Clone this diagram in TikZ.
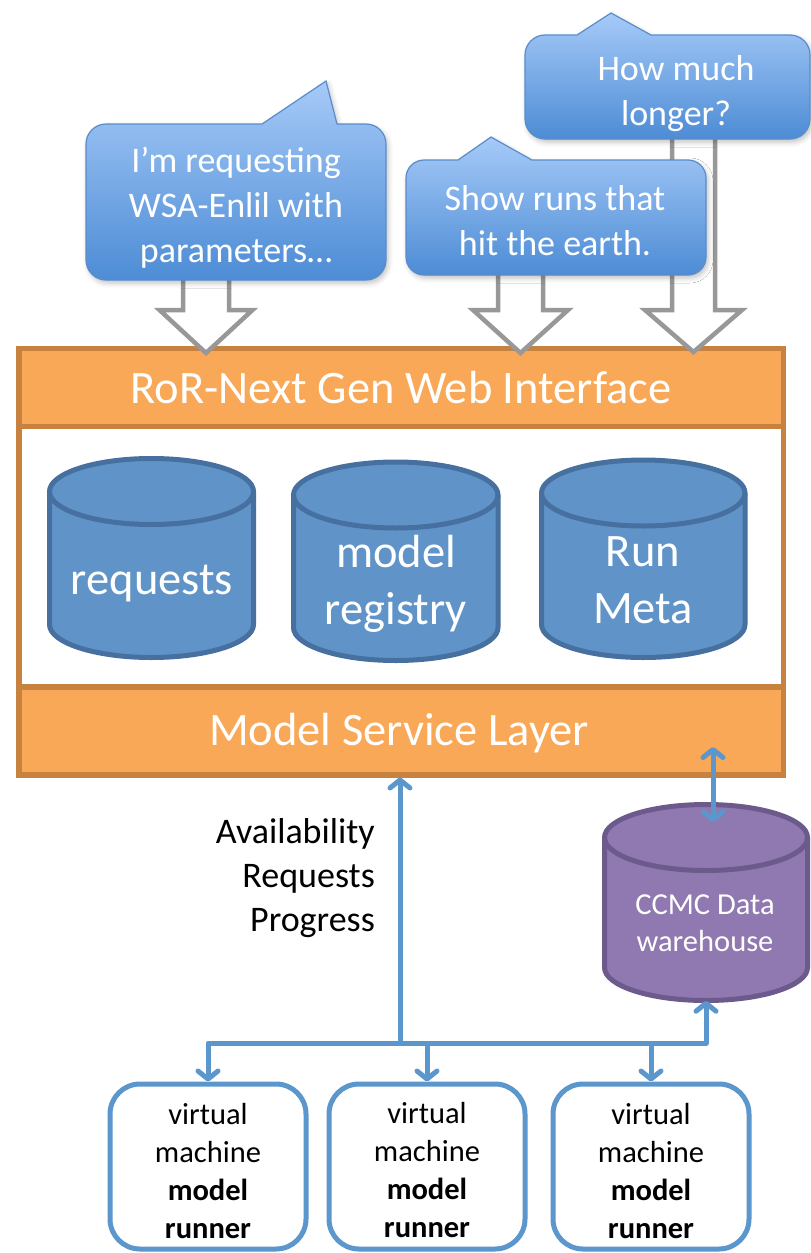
\documentclass[tikz,border=0pt]{standalone}
\usepackage{fontspec}
\setmainfont{Carlito}
\usetikzlibrary{arrows.meta,calc,shadows.blur}

\definecolor{bandfill}{HTML}{F8A856}
\definecolor{bandline}{HTML}{C8823F}
\definecolor{dbfill}{HTML}{6094C8}
\definecolor{dbline}{HTML}{46709F}
\definecolor{whfill}{HTML}{8F79B0}
\definecolor{whline}{HTML}{6C5A8D}
\definecolor{link}{HTML}{5B96CC}
\definecolor{bubtop}{HTML}{A6CAF8}
\definecolor{bubbot}{HTML}{4D8CD5}
\definecolor{bubline}{HTML}{5A8CCB}
\definecolor{hollow}{HTML}{989898}

\newcommand\fs[2]{\fontsize{#1}{#2}\selectfont}

% speech bubble: L R T B radius tailLeft tipX tipY tailRight
\newcommand\bubble[9]{%
  \shade[bubblestyle]
    (#1,{-(#3+#5)}) -- (#1,{-(#4-#5)})
    arc[start angle=180,end angle=270,radius=#5pt] -- ({#2-#5},-#4)
    arc[start angle=270,end angle=360,radius=#5pt] -- (#2,{-(#3+#5)})
    arc[start angle=0,end angle=90,radius=#5pt] -- (#9,-#3) -- (#7,-#8) -- (#6,-#3)
    -- ({#1+#5},-#3) arc[start angle=90,end angle=180,radius=#5pt] -- cycle;}

% database drum: L R T B ry fill line
\newcommand\drum[7]{%
  \pgfmathsetmacro\drx{(#2-#1)/2}%
  \pgfmathsetmacro\dtop{-(#3+#5)}%
  \pgfmathsetmacro\dbot{-(#4-#5)}%
  \path[draw=#7,fill=#6,line width=5pt,line join=round]
    (#1,\dtop) -- (#1,\dbot)
    arc[start angle=180,end angle=360,x radius=\drx pt,y radius=#5pt]
    -- (#2,\dtop)
    arc[start angle=0,end angle=180,x radius=\drx pt,y radius=#5pt] -- cycle;
  \draw[draw=#7,line width=5pt]
    (#1,\dtop) arc[start angle=180,end angle=360,x radius=\drx pt,y radius=#5pt];}

% hollow block arrow: centre x, shaft half width, head half width, top, head base, tip
\newcommand\blockarrow[6]{%
  \draw[hollowarrow] ({#1-#2},-#4) -- ({#1-#2},-#5) -- ({#1-#3},-#5) -- (#1,-#6)
    -- ({#1+#3},-#5) -- ({#1+#2},-#5) -- ({#1+#2},-#4) -- cycle;}

\begin{document}
\begin{tikzpicture}[x=1pt,y=1pt,
  bubblestyle/.style={top color=bubtop,bottom color=bubbot,draw=bubline,line width=1.2pt,
    blur shadow={shadow xshift=2pt,shadow yshift=-3pt,shadow opacity=25,shadow blur radius=5pt}},
  bubtext/.style={text=white,align=center,font=\fs{36}{45},inner sep=0pt},
  hollowarrow/.style={draw=hollow,fill=white,line width=4.5pt,line join=miter},
  frame/.style={draw=bandline,fill=white,line width=5.5pt,inner sep=0pt,anchor=north west},
  band/.style={draw=bandline,fill=bandfill,line width=5.5pt,inner sep=0pt,anchor=north west,
    text=white,font=\fs{46.5}{57}},
  dbtext/.style={text=white,align=center,font=\fs{46.5}{57},inner sep=0pt},
  whtext/.style={text=white,align=center,font=\fs{30.5}{37},inner sep=0pt},
  vmbox/.style={draw=link,fill=white,line width=5pt,rounded corners=30pt,
    minimum width=196pt,minimum height=165pt,inner sep=0pt},
  vmtext/.style={align=center,font=\fs{30.5}{37.7},inner sep=0pt},
  flowlabel/.style={text=black,align=right,font=\fs{36}{44},inner sep=0pt,anchor=east},
  linkline/.style={draw=link,line width=5pt,line join=round},
  tip/.style={-{Straight Barb[round,length=8pt,width=20pt]}},
  bothtips/.style={{Straight Barb[round,length=8pt,width=20pt]}-{Straight Barb[round,length=8pt,width=20pt]}}
]
\useasboundingbox (0,0) rectangle (811,-1253);

% web tier frame with its two layers
\node[frame,minimum width=764.5pt,minimum height=426.5pt] (frame) at (16,-345.5) {};
\node[band,minimum width=764.5pt,minimum height=78pt] (web) at (16,-345.5) {RoR-Next Gen Web Interface};
\node[band,minimum width=764.5pt,minimum height=88pt] (msl) at (16,-684) {};
\node[text=white,font=\fs{46.5}{57},inner sep=0pt] (msltext) at (399,-733) {Model Service Layer};

% databases inside the web tier
\drum{49.5}{253.5}{458.5}{657.5}{33}{dbfill}{dbline}
\drum{293.5}{498}{462}{660.5}{33}{dbfill}{dbline}
\drum{541.5}{745}{460}{657.5}{33}{dbfill}{dbline}
\node[dbtext] (requests) at (152,-584) {requests};
\node[dbtext] (registry) at (396,-584) {model\\registry};
\node[dbtext] (runmeta) at (643,-580) {Run\\Meta};

% user requests entering the web interface
\blockarrow{206}{23}{46.5}{270}{310}{353}
\blockarrow{520.5}{22.5}{47.5}{265}{310}{353}
\blockarrow{693.5}{21.5}{48.5}{130}{310}{352}

% speech bubbles
\bubble{86}{386}{124}{280}{20}{262}{326}{81}{337}
\bubble{406}{706}{160}{275}{18}{458}{491}{137}{532}
\bubble{525}{810}{35}{139}{20}{577}{611}{13}{651}
\node[bubtext] (ask) at (236,-208) {I’m requesting\\WSA-Enlil with\\parameters…};
\node[bubtext] (show) at (555,-221) {Show runs that\\hit the earth.};
\node[bubtext] (eta) at (676,-94) {How much\\longer?};

% data warehouse
\drum{604.5}{807.5}{804.5}{1000.5}{33}{whfill}{whline}
\node[inner sep=0pt,minimum width=203pt,minimum height=196pt] (ccmc) at (706,-902.5) {};
\node[whtext] (ccmclabel) at (705,-923) {CCMC Data\\warehouse};

% virtual machines
\node[vmbox] (vm1) at (208,-1166.5) {};
\node[vmbox] (vm2) at (427,-1166.5) {};
\node[vmbox] (vm3) at (651,-1166.5) {};
\node[vmtext] (vm1text) at (208,-1171) {virtual\\machine\\\textbf{model}\\\textbf{runner}};
\node[vmtext] (vm2text) at (427,-1170) {virtual\\machine\\\textbf{model}\\\textbf{runner}};
\node[vmtext] (vm3text) at (651,-1171) {virtual\\machine\\\textbf{model}\\\textbf{runner}};

% message flow
\node[flowlabel] (flows) at (375,-878) {Availability\\Requests\\Progress};
\coordinate (hub) at (400,-1043);
\coordinate (dwtop) at (713,-747);
\coordinate (dwbot) at (713,-822);
\draw[linkline,tip] (hub) -- (hub |- msl.south);
\draw[linkline,tip] (hub) -| (vm1.north);
\draw[linkline,tip] (vm2.north |- hub) -- (vm2.north);
\draw[linkline,tip] (hub) -| (ccmc.south);
\draw[linkline,tip] (vm3.north |- hub) -- (vm3.north);
\draw[linkline,bothtips] (dwbot) -- (dwtop);
\end{tikzpicture}
\end{document}
